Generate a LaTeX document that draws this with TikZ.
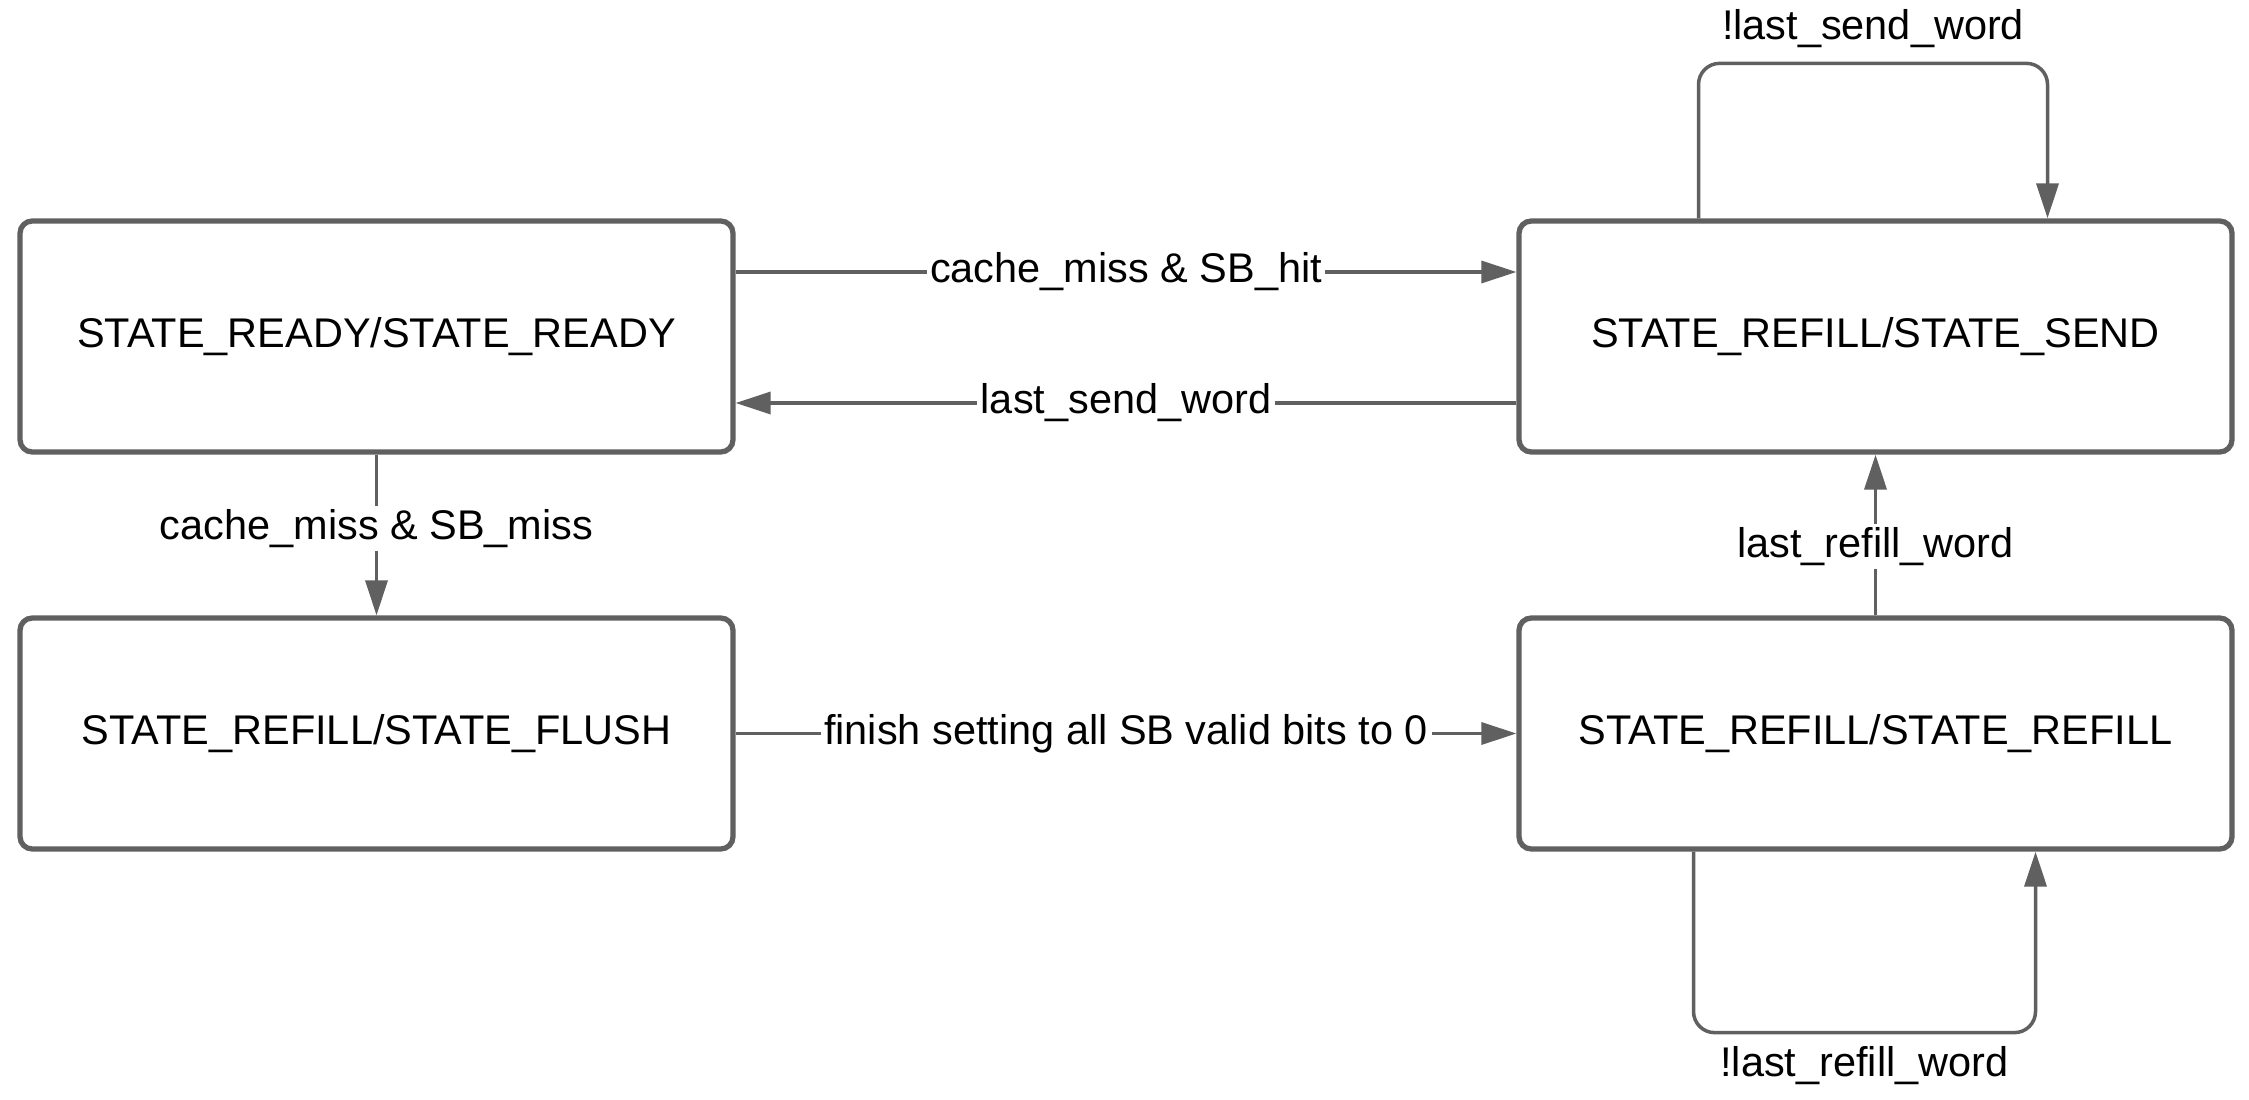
\documentclass[tikz,border=0pt]{standalone}
\usepackage{fontspec}
\setmainfont{Liberation Sans}
\usetikzlibrary{positioning,arrows.meta}
\definecolor{linegray}{HTML}{606060}

\begin{document}
\begin{tikzpicture}[
font=\fontsize{11.8}{14}\selectfont,
state/.style={draw=linegray,line width=1.5pt,rectangle,rounded corners=3.5pt,
    minimum width=7.13cm,minimum height=2.31cm},
conn/.style={draw=linegray,line width=1pt,-{Triangle[length=3.5mm,width=2.2mm]}},
lbl/.style={fill=white,inner sep=1pt}]
\useasboundingbox (0,0) rectangle (22.49,10.99);

\node (ready) [state] at (3.765,7.625) {STATE\_READY/STATE\_READY};
\node (send) [state] at (18.755,7.625) {STATE\_REFILL/STATE\_SEND};
\node (flush) [state] at (3.765,3.655) {STATE\_REFILL/STATE\_FLUSH};
\node (refill) [state] at (18.755,3.655) {STATE\_REFILL/STATE\_REFILL};

\draw [conn] ([yshift=6.45mm]ready.east) -- node [lbl] {cache\_miss \& SB\_hit} ([yshift=6.45mm]send.west);
\draw [conn] ([yshift=-6.65mm]send.west) -- node [lbl] {last\_send\_word} ([yshift=-6.65mm]ready.east);
\draw [conn] (ready.south) -- node [lbl,pos=0.46] {cache\_miss \& SB\_miss} (flush.north);
\draw [conn] (flush.east) -- node [lbl] {finish setting all SB valid bits to 0} (refill.west);
\draw [conn] (refill.north) -- node [lbl,pos=0.43] {last\_refill\_word} (send.south);

% self loops
\draw [conn,rounded corners=6pt] ([xshift=-17.7mm]send.north) -- ++(0,1.55)
    -| node [pos=0.25,above=0.2mm] {!last\_send\_word} ([xshift=17.2mm]send.north);
\draw [conn,rounded corners=6pt] ([xshift=-18.2mm]refill.south) -- ++(0,-1.81)
    -| node [pos=0.25,below=0mm] {!last\_refill\_word} ([xshift=16mm]refill.south);
\end{tikzpicture}
\end{document}
